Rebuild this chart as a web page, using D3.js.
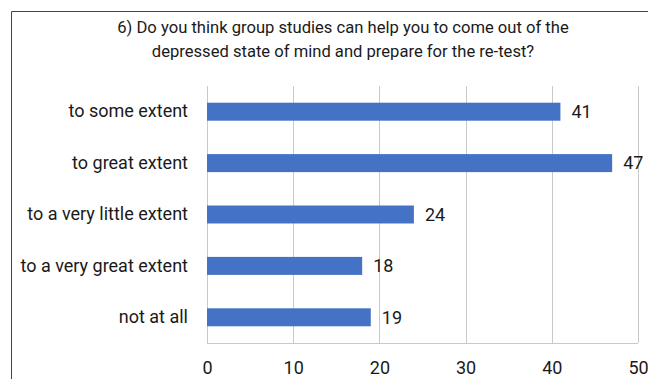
<!DOCTYPE html>
<html>
<head>
<meta charset="utf-8">
<script src="https://cdn.jsdelivr.net/npm/d3@7"></script>
<style>
  body { margin: 0; background: #fff; }
  text { font-family: Roboto, Lato, sans-serif; fill: #1a1a1a; }
</style>
</head>
<body>
<svg id="chart"></svg>
<script>
const width = 648, height = 379;

// data
const categories = ["to some extent", "to great extent", "to a very little extent", "to a very great extent", "not at all"];
const counts = [41, 47, 24, 18, 19];
const tickValues = [0, 10, 20, 30, 40, 50];
const titleLines = [
  "6) Do you think group studies can help you to come out of the",
  "depressed state of mind and prepare for the re-test?"
];

const svg = d3.select("#chart")
  .attr("width", width)
  .attr("height", height);

// frame around the chart (cut off at right and bottom in the original)
svg.append("path")
  .attr("d", "M11.5," + (height + 2) + "V11.5H" + (width + 2))
  .attr("fill", "none")
  .attr("stroke", "#444")
  .attr("stroke-width", 1);

svg.selectAll("text.title")
  .data(titleLines)
  .enter().append("text")
  .attr("class", "title")
  .attr("x", 343)
  .attr("y", (d, i) => 33 + i * 24)
  .attr("text-anchor", "middle")
  .style("font-size", "16.6px")
  .text(d => d);

const margin = {left: 207, right: 10, top: 86, bottom: 36};

const x = d3.scaleLinear()
  .domain([0, 50])
  .range([margin.left, 638]);

const y = d3.scaleBand()
  .domain(categories)
  .range([margin.top, height - margin.bottom])
  .paddingInner(0.65)
  .paddingOuter(0.325);

// vertical gridlines
svg.append("g")
  .selectAll("line")
  .data(tickValues)
  .enter().append("line")
  .attr("x1", d => Math.round(x(d)) + 0.5)
  .attr("x2", d => Math.round(x(d)) + 0.5)
  .attr("y1", margin.top)
  .attr("y2", height - margin.bottom)
  .attr("stroke", "#c9c9c9")
  .attr("stroke-width", 1);

// bottom axis line
svg.append("line")
  .attr("x1", x(0))
  .attr("x2", x(50))
  .attr("y1", height - margin.bottom + 0.5)
  .attr("y2", height - margin.bottom + 0.5)
  .attr("stroke", "#c9c9c9");

// tick labels
const xAxis = svg.append("g")
  .attr("transform", "translate(0," + (height - margin.bottom) + ")")
  .call(d3.axisBottom(x).tickValues(tickValues).tickSize(0).tickPadding(18));
xAxis.select(".domain").remove();
xAxis.selectAll("text")
  .style("font-size", "18px")
  .attr("fill", "#1a1a1a");

// category labels
const yAxis = svg.append("g")
  .attr("transform", "translate(" + margin.left + ",0)")
  .call(d3.axisLeft(y).tickSize(0).tickPadding(19));
yAxis.select(".domain").remove();
yAxis.selectAll("text")
  .style("font-size", "18px")
  .attr("fill", "#1a1a1a");

// bars
svg.selectAll("rect.bar")
  .data(counts)
  .enter().append("rect")
  .attr("class", "bar")
  .attr("x", x(0))
  .attr("y", (d, i) => y(categories[i]))
  .attr("width", d => x(d) - x(0))
  .attr("height", y.bandwidth())
  .attr("fill", "#4472c4");

// value labels
svg.selectAll("text.val")
  .data(counts)
  .enter().append("text")
  .attr("class", "val")
  .attr("x", d => x(d) + 11)
  .attr("y", (d, i) => y(categories[i]) + y.bandwidth() / 2)
  .attr("dy", "0.35em")
  .style("font-size", "18px")
  .text(d => d);
</script>
</body>
</html>
